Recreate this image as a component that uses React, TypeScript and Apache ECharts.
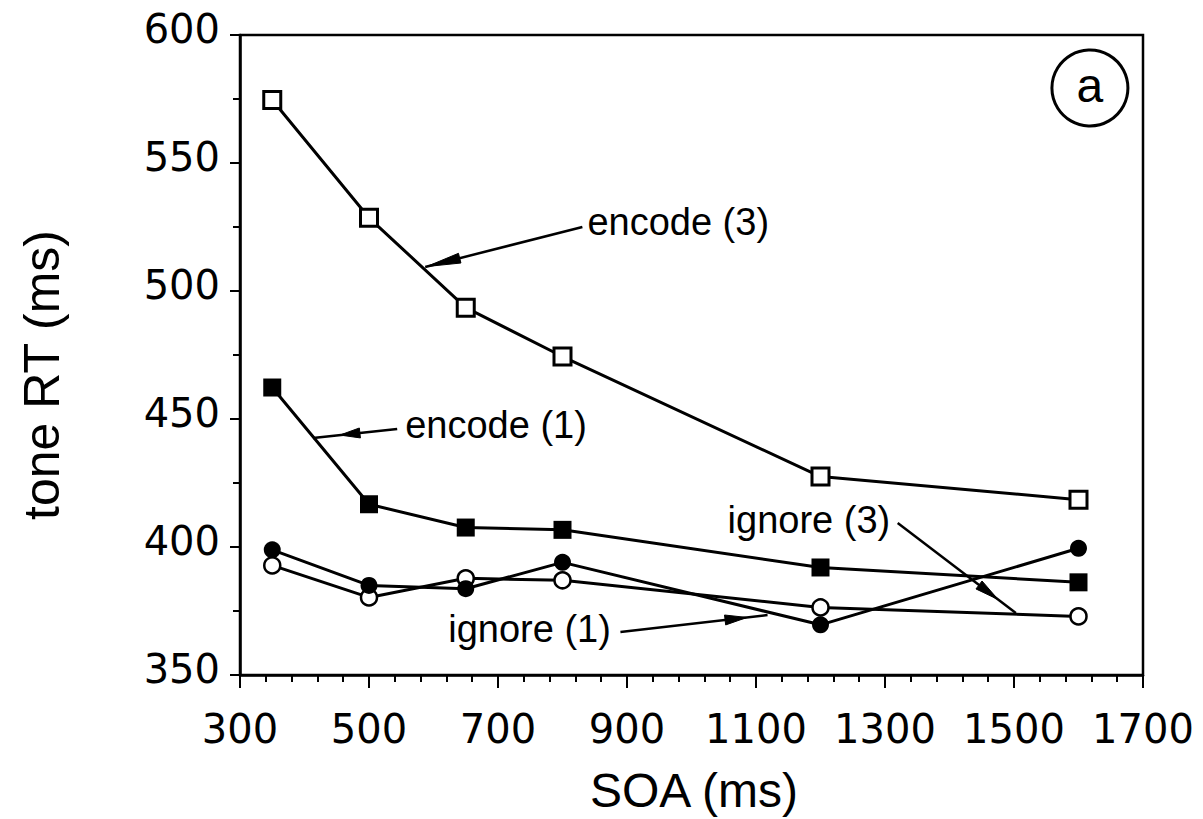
import React, { useEffect, useRef } from "react";
import * as echarts from "echarts";

// ---- data ----
const soa = [350, 500, 650, 800, 1200, 1600];
const encode3 = [574.6, 528.6, 493.5, 474.4, 427.5, 418.5];
const encode1 = [462.3, 416.7, 407.6, 406.7, 392.0, 386.2];
const ignore1 = [398.9, 385.0, 383.7, 394.0, 369.6, 399.5];
const ignore3 = [392.8, 380.3, 387.8, 387.0, 376.4, 372.9];

const xTicks = [300, 500, 700, 900, 1100, 1300, 1500, 1700];
const yTicks = [350, 400, 450, 500, 550, 600];

// annotation labels (text anchor = left / baseline, in data space)
const labelTexts = ["encode (3)", "encode (1)", "ignore (1)", "ignore (3)"];
const labelAnchors = [
  [838.6, 521.9],
  [556.1, 442.6],
  [622.8, 362.9],
  [1055.9, 405.5],
];
// arrows: from -> to (data space), head position fraction along line
const arrowFrom = [
  [830.8, 525.0],
  [543.7, 446.1],
  [889.8, 366.8],
  [1319.7, 409.4],
];
const arrowTo = [
  [587.1, 509.4],
  [413.3, 442.6],
  [1117.9, 373.4],
  [1502.8, 374.2],
];
const arrowHeadAt = [0.99, 0.68, 0.86, 0.85];
const arrowHeadLen = [34, 20, 22, 24];

const panelLetter = "a";
const panelCenter = [1617.7, 579.3];

const FONT_TICK = "DejaVu Sans";
const FONT_TEXT = "Liberation Sans, Arial, Helvetica, sans-serif";

function pairs(vals: number[]) {
  return soa.map((x, i) => [x, vals[i]]);
}

export default function App() {
  const ref = useRef<HTMLDivElement>(null);
  useEffect(() => {
    document.body.style.margin = "0";
    const chart = echarts.init(ref.current!, undefined, { renderer: "svg" });
    const lineStyle = { color: "#000", width: 3 };
    chart.setOption({
      animation: false,
      backgroundColor: "#fff",
      grid: {
        left: 240,
        top: 35,
        right: 60,
        bottom: 144,
        show: true,
        borderColor: "#000",
        borderWidth: 2.5,
        backgroundColor: "transparent",
      },
      xAxis: {
        type: "value",
        min: 300,
        max: 1700,
        interval: 200,
        axisLine: { show: true, onZero: false, lineStyle: { color: "#000", width: 2.5 } },
        axisTick: { show: true, inside: false, length: 13, lineStyle: { color: "#000", width: 2 } },
        minorTick: { show: true, splitNumber: 5, length: 7, lineStyle: { color: "#000", width: 2 } },
        splitLine: { show: false },
        minorSplitLine: { show: false },
        axisLabel: {
          color: "#000",
          fontFamily: FONT_TICK,
          fontSize: 40,
          margin: 34,
          formatter: (v: number) => (xTicks.includes(v) ? String(v) : ""),
        },
      },
      yAxis: {
        type: "value",
        min: 350,
        max: 600,
        interval: 50,
        axisLine: { show: true, onZero: false, lineStyle: { color: "#000", width: 2.5 } },
        axisTick: { show: true, inside: false, length: 10, lineStyle: { color: "#000", width: 2 } },
        minorTick: { show: true, splitNumber: 2, length: 7, lineStyle: { color: "#000", width: 2 } },
        splitLine: { show: false },
        minorSplitLine: { show: false },
        axisLabel: {
          color: "#000",
          fontFamily: FONT_TICK,
          fontSize: 40,
          margin: 20,
          verticalAlign: "bottom",
          lineHeight: 12,
          formatter: (v: number) => (yTicks.includes(v) ? String(v) : ""),
        },
      },
      series: [
        {
          name: "ignore (3)",
          type: "line",
          data: pairs(ignore3),
          symbol: "circle",
          symbolSize: 16,
          lineStyle,
          itemStyle: { color: "#fff", borderColor: "#000", borderWidth: 2.5 },
          z: 2,
        },
        {
          name: "ignore (1)",
          type: "line",
          data: pairs(ignore1),
          symbol: "circle",
          symbolSize: 17,
          lineStyle,
          itemStyle: { color: "#000", borderColor: "#000", borderWidth: 0 },
          z: 3,
        },
        {
          name: "encode (1)",
          type: "line",
          data: pairs(encode1),
          symbol: "rect",
          symbolSize: 18,
          lineStyle,
          itemStyle: { color: "#000", borderColor: "#000", borderWidth: 0 },
          z: 4,
        },
        {
          name: "encode (3)",
          type: "line",
          data: pairs(encode3),
          symbol: "rect",
          symbolSize: 17,
          lineStyle,
          itemStyle: { color: "#fff", borderColor: "#000", borderWidth: 3 },
          z: 5,
        },
      ],
    });

    const toPx = (p: number[]) => chart.convertToPixel({ gridIndex: 0 }, p) as number[];
    const graphics: any[] = [];

    // axis titles
    graphics.push({
      type: "text",
      x: 694,
      y: 790,
      style: { text: "SOA (ms)", fontFamily: FONT_TEXT, fontSize: 48, fill: "#000", align: "center", verticalAlign: "middle" },
    });
    graphics.push({
      type: "text",
      x: 59 - 0.35 * 50,
      y: 375,
      rotation: Math.PI / 2,
      style: { text: "tone RT (ms)", fontFamily: FONT_TEXT, fontSize: 50, fill: "#000", align: "center", verticalAlign: "middle" },
    });

    // annotation labels
    labelTexts.forEach((t, i) => {
      const p = toPx(labelAnchors[i]);
      graphics.push({
        type: "text",
        x: p[0],
        y: p[1] - 0.35 * 38,
        z: 20,
        style: { text: t, fontFamily: FONT_TEXT, fontSize: 38, fill: "#000", align: "left", verticalAlign: "middle" },
      });
    });

    // arrows
    arrowFrom.forEach((f, i) => {
      const a = toPx(f);
      const b = toPx(arrowTo[i]);
      graphics.push({
        type: "line",
        z: 20,
        shape: { x1: a[0], y1: a[1], x2: b[0], y2: b[1] },
        style: { stroke: "#000", lineWidth: 2.5 },
      });
      const dx = b[0] - a[0];
      const dy = b[1] - a[1];
      const len = Math.hypot(dx, dy);
      const ux = dx / len;
      const uy = dy / len;
      const t = arrowHeadAt[i];
      const tip = [a[0] + dx * t, a[1] + dy * t];
      const L = arrowHeadLen[i];
      const W = 5;
      const base = [tip[0] - ux * L, tip[1] - uy * L];
      graphics.push({
        type: "polygon",
        z: 21,
        shape: {
          points: [
            tip,
            [base[0] - uy * W, base[1] + ux * W],
            [base[0] + uy * W, base[1] - ux * W],
          ],
        },
        style: { fill: "#000", stroke: "#000", lineWidth: 1 },
      });
    });

    // panel letter
    const c = toPx(panelCenter);
    graphics.push({
      type: "circle",
      z: 20,
      shape: { cx: c[0], cy: c[1], r: 38 },
      style: { fill: "#fff", stroke: "#000", lineWidth: 3 },
    });
    graphics.push({
      type: "text",
      z: 21,
      x: c[0],
      y: c[1] - 2,
      style: { text: panelLetter, fontFamily: FONT_TEXT, fontSize: 48, fill: "#000", align: "center", verticalAlign: "middle" },
    });

    chart.setOption({ graphic: graphics });
    return () => chart.dispose();
  }, []);
  return <div ref={ref} style={{ width: 1203, height: 819 }} />;
}
